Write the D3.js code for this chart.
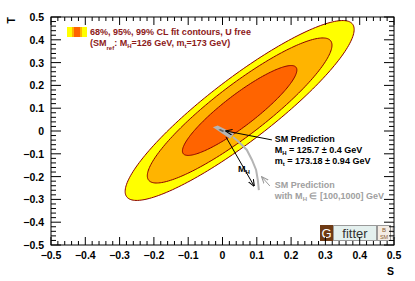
<!DOCTYPE html>
<html><head><meta charset="utf-8">
<script src="https://cdn.jsdelivr.net/npm/d3@7"></script>
<style>body{margin:0;background:#fff}svg{display:block}text{font-family:"Liberation Sans",Arial,Helvetica,sans-serif}</style>
</head><body>
<script>
// ---- data ----
const fitCenter = [0.05, 0.09];          // S, T
const fitSigma = [0.11, 0.13];           // sigma_S, sigma_T
const fitRho = 0.90;
const clLabels = ["99%", "95%", "68%"];
const clChi2 = [9.21, 5.99, 2.30];
const clColors = ["#ffff00", "#ffb400", "#ff6400"];
const xTicks = [-0.5,-0.4,-0.3,-0.2,-0.1,0,0.1,0.2,0.3,0.4,0.5];
const yTicks = [-0.5,-0.4,-0.3,-0.2,-0.1,0,0.1,0.2,0.3,0.4,0.5];
const smBand = [[-0.028,0.016],[-0.014,0.024],[0.034,-0.012],[0.022,-0.034]];
const smBandCore = [[-0.012,0.006],[-0.006,0.009],[0.006,0.0],[0.000,-0.004]];
const mhCurve = [[0.031,-0.026],[0.051,-0.053],[0.071,-0.083],[0.086,-0.127],[0.098,-0.171],[0.103,-0.215],[0.106,-0.259]];
const mhArrow = [[0.010,-0.026],[0.092,-0.241]];
const smArrow = [[0.144,-0.039],[0.010,0.0]];
const greyArrow = [[0.138,-0.241],[0.115,-0.202]];

const W=415,H=281;
const svg=d3.select("body").append("svg").attr("width",W).attr("height",H);
const x=d3.scaleLinear([-0.5,0.5],[51,394]);
const y=d3.scaleLinear([-0.5,0.5],[245,17]);

const defs=svg.append("defs");
function marker(id,col){
  defs.append("marker").attr("id",id).attr("viewBox","0 0 10 10").attr("refX",9).attr("refY",5)
   .attr("markerWidth",7).attr("markerHeight",7).attr("orient","auto")
   .append("path").attr("d","M0,1 L10,5 L0,9").attr("fill","none").attr("stroke",col).attr("stroke-width",1.5);
}
marker("ab","#000");marker("ag","#999");

// ellipses
function ellipsePts(chi2){
  const pts=[];
  const k=Math.sqrt(chi2);
  for(let i=0;i<=200;i++){
    const a=2*Math.PI*i/200;
    const u=Math.cos(a), v=Math.sin(a);
    const s=fitCenter[0]+k*fitSigma[0]*u;
    const t=fitCenter[1]+k*fitSigma[1]*(fitRho*u+Math.sqrt(1-fitRho*fitRho)*v);
    pts.push([s,t]);
  }
  return pts;
}
const line=d3.line().x(d=>x(d[0])).y(d=>y(d[1]));
clChi2.forEach((c,i)=>{
  svg.append("path").attr("d",line(ellipsePts(c))+"Z").attr("fill",clColors[i])
    .attr("stroke","#8b0000").attr("stroke-width",1);
});

// SM band & curve
svg.append("path").attr("d",line(mhCurve)).attr("fill","none").attr("stroke","#b4b4b4").attr("stroke-width",2);
svg.append("path").attr("d",line(smBand)+"Z").attr("fill","#b4b4b4");
svg.append("path").attr("d",line(smBandCore)+"Z").attr("fill","#666");
svg.append("path").attr("d",line(mhArrow)).attr("stroke","#000").attr("stroke-width",1).attr("marker-end","url(#ab)");
svg.append("path").attr("d",line(smArrow)).attr("stroke","#000").attr("stroke-width",1).attr("marker-end","url(#ab)");
svg.append("path").attr("d",line(greyArrow)).attr("stroke","#999").attr("stroke-width",1).attr("marker-end","url(#ag)");

// M_H label
const mh=svg.append("text").attr("x",x(0.045)).attr("y",y(-0.178)).attr("font-size",9).attr("font-weight","bold");
mh.append("tspan").text("M");mh.append("tspan").attr("font-size",6).attr("dy",2.5).text("H");

// SM prediction labels
const lx=x(0.152);
svg.append("text").attr("x",lx).attr("y",142).attr("font-size",9).attr("font-weight","bold").text("SM Prediction");
const t2=svg.append("text").attr("x",lx).attr("y",153).attr("font-size",9).attr("font-weight","bold");
t2.append("tspan").text("M");t2.append("tspan").attr("font-size",6).attr("dy",2).text("H");
t2.append("tspan").attr("dy",-2).text(" = 125.7 ± 0.4 GeV");
const t3=svg.append("text").attr("x",lx).attr("y",163.5).attr("font-size",9).attr("font-weight","bold");
t3.append("tspan").text("m");t3.append("tspan").attr("font-size",6).attr("dy",2).text("t");
t3.append("tspan").attr("dy",-2).text(" = 173.18 ± 0.94 GeV");
svg.append("text").attr("x",lx).attr("y",188).attr("font-size",9).attr("font-weight","bold").attr("fill","#a0a0a0").text("SM Prediction");
const t5=svg.append("text").attr("x",lx).attr("y",199).attr("font-size",9).attr("font-weight","bold").attr("fill","#a0a0a0");
t5.append("tspan").text("with M");t5.append("tspan").attr("font-size",6).attr("dy",2).text("H");
t5.append("tspan").attr("dy",-2).text(" ∈ [100,1000] GeV");

// legend
const lgc=["#ffff00","#ffb400","#ff6400","#ffb400","#ffff00"];
const lgw=[5,2,6,2,5];let lxp=67;
lgc.forEach((c,i)=>{svg.append("rect").attr("x",lxp).attr("y",27).attr("width",lgw[i]).attr("height",10).attr("fill",c);lxp+=lgw[i];});
const lgCol="#8c1a1a";
svg.append("text").attr("x",90).attr("y",35).attr("font-size",9).attr("font-weight","bold").attr("fill",lgCol).text("68%, 95%, 99% CL fit contours, U free");
const l2=svg.append("text").attr("x",90).attr("y",46).attr("font-size",9).attr("font-weight","bold").attr("fill",lgCol);
l2.append("tspan").text("(SM");l2.append("tspan").attr("font-size",6).attr("dy",4).text("ref");
l2.append("tspan").attr("dy",-4).text(": M");l2.append("tspan").attr("font-size",6).attr("dy",2).text("H");
l2.append("tspan").attr("dy",-2).text("=126 GeV, m");l2.append("tspan").attr("font-size",6).attr("dy",2).text("t");
l2.append("tspan").attr("dy",-2).text("=173 GeV)");

// Gfitter logo
const g=svg.append("g");
g.append("rect").attr("x",320).attr("y",225).attr("width",13).attr("height",16).attr("fill","#6e3a14");
g.append("text").attr("x",326.5).attr("y",238).attr("text-anchor","middle").attr("font-size",13).attr("fill","#fff").text("G");
g.append("rect").attr("x",333.5).attr("y",225.5).attr("width",43).attr("height",15).attr("fill","#e4f0ee").attr("stroke","#999").attr("stroke-width",1);
g.append("text").attr("x",355).attr("y",238).attr("text-anchor","middle").attr("font-size",13).attr("fill","#333").text("fitter");
g.append("rect").attr("x",377.5).attr("y",225.5).attr("width",13).attr("height",15).attr("fill","#f4ece4").attr("stroke","#999").attr("stroke-width",1);
g.append("text").attr("x",384).attr("y",232).attr("text-anchor","middle").attr("font-size",6).attr("fill","#8a5a30").text("B");
g.append("text").attr("x",384).attr("y",239).attr("text-anchor","middle").attr("font-size",5.5).attr("fill","#8a5a30").text("SM");
g.append("text").attr("transform","translate(392,226) rotate(90)").attr("font-size",4).attr("fill","#999").text("Sep 13");

// frame & ticks
svg.append("rect").attr("x",51).attr("y",17).attr("width",343).attr("height",228).attr("fill","none").attr("stroke","#000").attr("stroke-width",1);
const minorX=d3.range(-0.5,0.5001,0.02);
minorX.forEach(v=>{
  const major=Math.abs(Math.round(v*10)-v*10)<1e-6;
  const len=major?8:4;
  svg.append("line").attr("x1",x(v)).attr("x2",x(v)).attr("y1",245).attr("y2",245-len).attr("stroke","#000");
  svg.append("line").attr("x1",x(v)).attr("x2",x(v)).attr("y1",17).attr("y2",17+len).attr("stroke","#000");
});
const minorY=d3.range(-0.5,0.5001,0.02);
minorY.forEach(v=>{
  const major=Math.abs(Math.round(v*10)-v*10)<1e-6;
  const len=major?10:5;
  svg.append("line").attr("y1",y(v)).attr("y2",y(v)).attr("x1",51).attr("x2",51+len).attr("stroke","#000");
  svg.append("line").attr("y1",y(v)).attr("y2",y(v)).attr("x1",394).attr("x2",394-len).attr("stroke","#000");
});
xTicks.forEach(v=>svg.append("text").attr("x",x(v)).attr("y",259).attr("text-anchor","middle")
  .attr("font-size",10.5).attr("font-weight","bold").text(d3.format("")(+v.toFixed(1))));
yTicks.forEach(v=>svg.append("text").attr("x",44).attr("y",y(v)+4).attr("text-anchor","end")
  .attr("font-size",10.5).attr("font-weight","bold").text(d3.format("")(+v.toFixed(1))));
svg.append("text").attr("x",394).attr("y",275).attr("text-anchor","end").attr("font-size",10.5).attr("font-weight","bold").text("S");
svg.append("text").attr("transform","translate(15,17) rotate(-90)").attr("text-anchor","end").attr("font-size",10.5).attr("font-weight","bold").text("T");
</script>
</body></html>
